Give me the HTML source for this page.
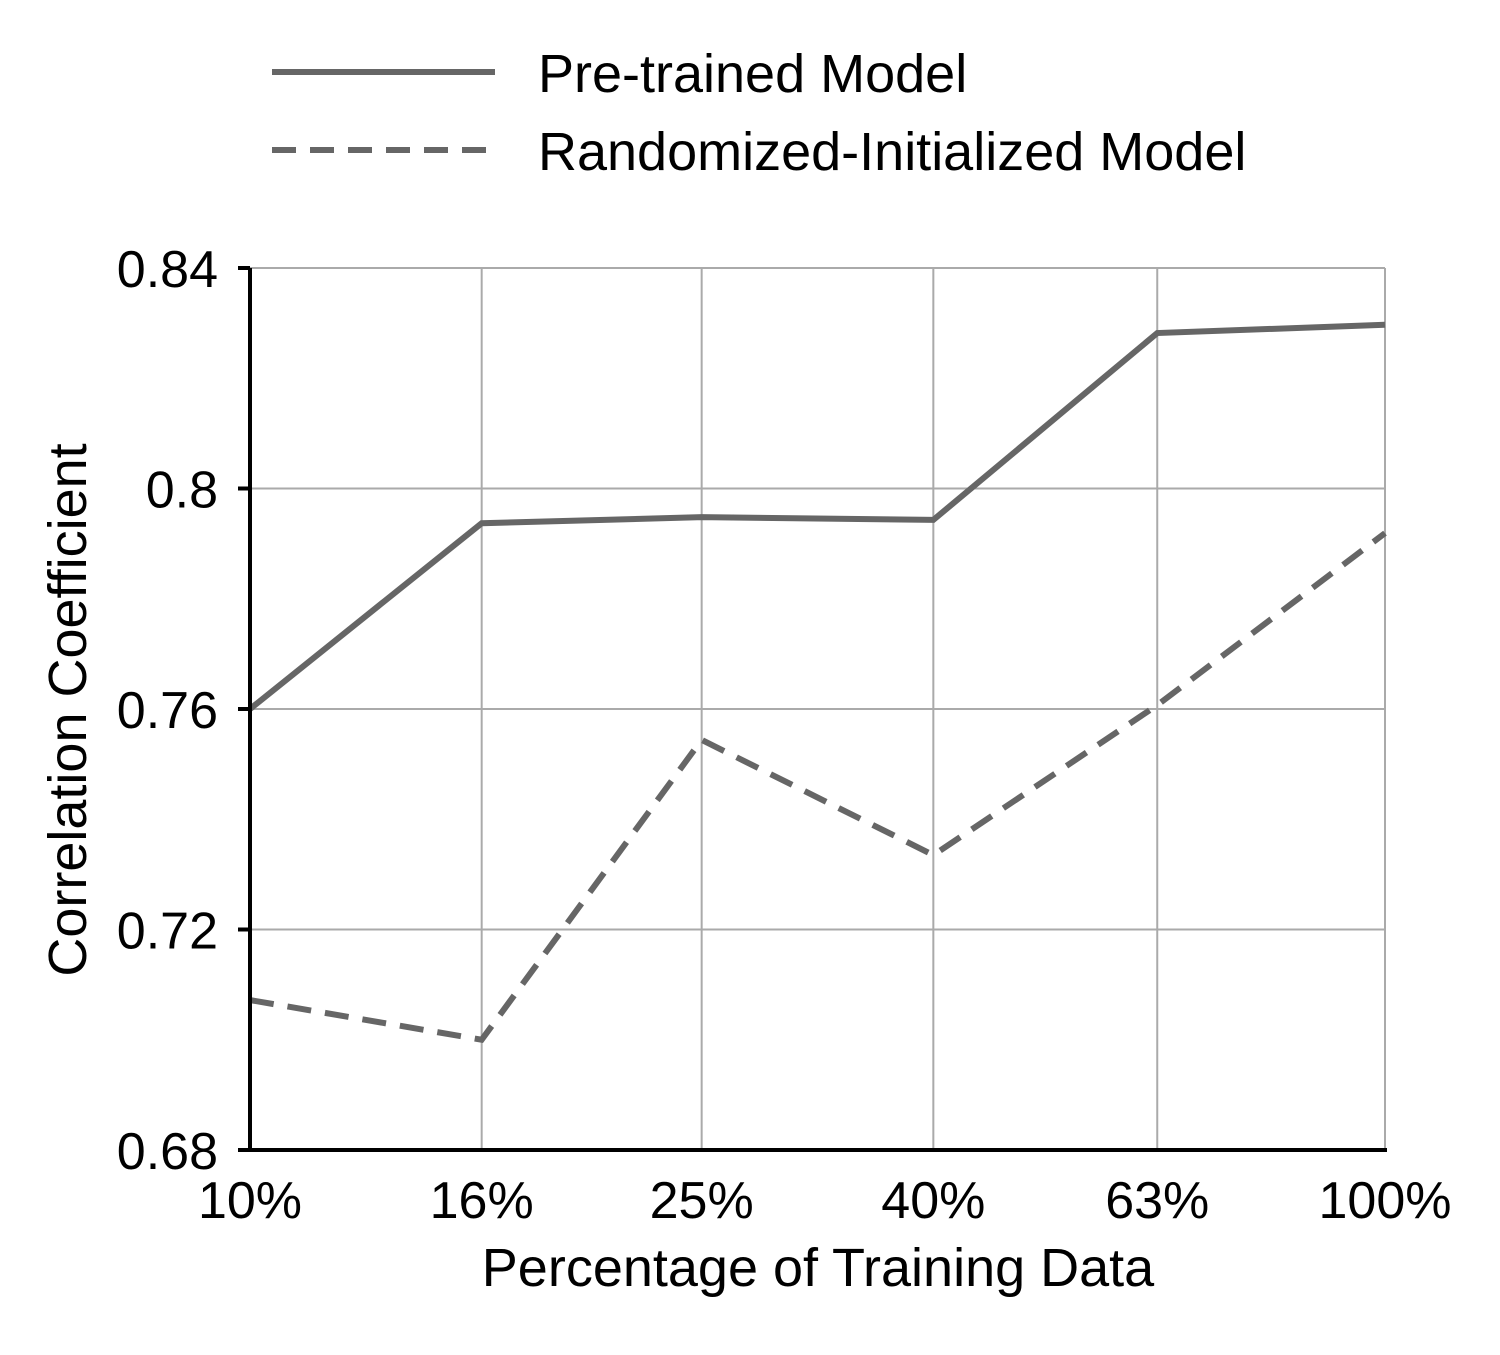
<!DOCTYPE html>
<html><head><meta charset="utf-8"><style>
html,body{margin:0;padding:0;background:#fff}
svg text{font-family:"Liberation Sans",Arial,sans-serif;fill:#000}
</style></head><body>
<svg width="1500" height="1350" viewBox="0 0 1500 1350" xmlns="http://www.w3.org/2000/svg">
<g id="grid"></g>
<g id="series"></g>
<g id="axes"></g>
<g>
<line x1="272" y1="72" x2="495" y2="72" stroke="#666" stroke-width="6"/>
<text x="538" y="92" font-size="54">Pre-trained Model</text>
<line x1="272" y1="150" x2="495" y2="150" stroke="#666" stroke-width="6" stroke-dasharray="24,14"/>
<text x="538" y="170" font-size="54">Randomized-Initialized Model</text>
</g>
<text x="818" y="1286" font-size="54" text-anchor="middle">Percentage of Training Data</text>
<text transform="translate(86,710) rotate(-90)" font-size="54" text-anchor="middle">Correlation Coefficient</text>
</svg>
<script>
const categories=[10,16,25,40,63,100];
const xTickLabels=["10%","16%","25%","40%","63%","100%"];
const yTicks=[0.68,0.72,0.76,0.8,0.84];
const yTickLabels=["0.68","0.72","0.76","0.8","0.84"];
const pretrained=[0.760,0.7937,0.7948,0.7943,0.8282,0.8297];
const randomInit=[0.7072,0.700,0.7544,0.7335,0.7607,0.7919];
const L=250,R=1385,T=268,B=1150;
const x=v=>L+(Math.log10(v)-1)/(2-1)*(R-L);
const y=v=>B-(v-0.68)/(0.84-0.68)*(B-T);
const NS="http://www.w3.org/2000/svg";
function mk(tag,attrs,parent){const e=document.createElementNS(NS,tag);for(const k in attrs)e.setAttribute(k,attrs[k]);parent.appendChild(e);return e;}
const grid=document.getElementById('grid'),axes=document.getElementById('axes'),series=document.getElementById('series');
categories.forEach((c,i)=>{
 const g=mk('line',{x1:x(c),x2:x(c),y1:T,y2:B,stroke:'#aaa','stroke-width':2},grid);
 
 
 const t=mk('text',{x:x(c),y:B+68,'font-size':52,'text-anchor':'middle'},axes);
 t.textContent=xTickLabels[i];
 
 
});
yTicks.forEach((v,i)=>{
 const g=mk('line',{x1:L,x2:R,y1:y(v),y2:y(v),stroke:'#aaa','stroke-width':2},grid);
 
 
 const tk=mk('line',{x1:L-12,x2:L,y1:y(v),y2:y(v),stroke:'#000','stroke-width':4},axes);
 
 
 const t=mk('text',{x:L-32,y:y(v)+19,'font-size':52,'text-anchor':'end'},axes);
 t.textContent=yTickLabels[i];
 
 
});
const ya=mk('line',{x1:L,x2:L,y1:T,y2:B+2,stroke:'#000','stroke-width':4},axes);


const xa=mk('line',{x1:L-2,x2:R+2,y1:B,y2:B,stroke:'#000','stroke-width':4},axes);


const pts=a=>a.map((v,i)=>x(categories[i])+','+y(v)).join(' ');
const p1=mk('polyline',{points:pts(pretrained),fill:'none',stroke:'#666','stroke-width':6},series);


const p2=mk('polyline',{points:pts(randomInit),fill:'none',stroke:'#666','stroke-width':6,'stroke-dasharray':'24,14'},series);


</script>
</body></html>
